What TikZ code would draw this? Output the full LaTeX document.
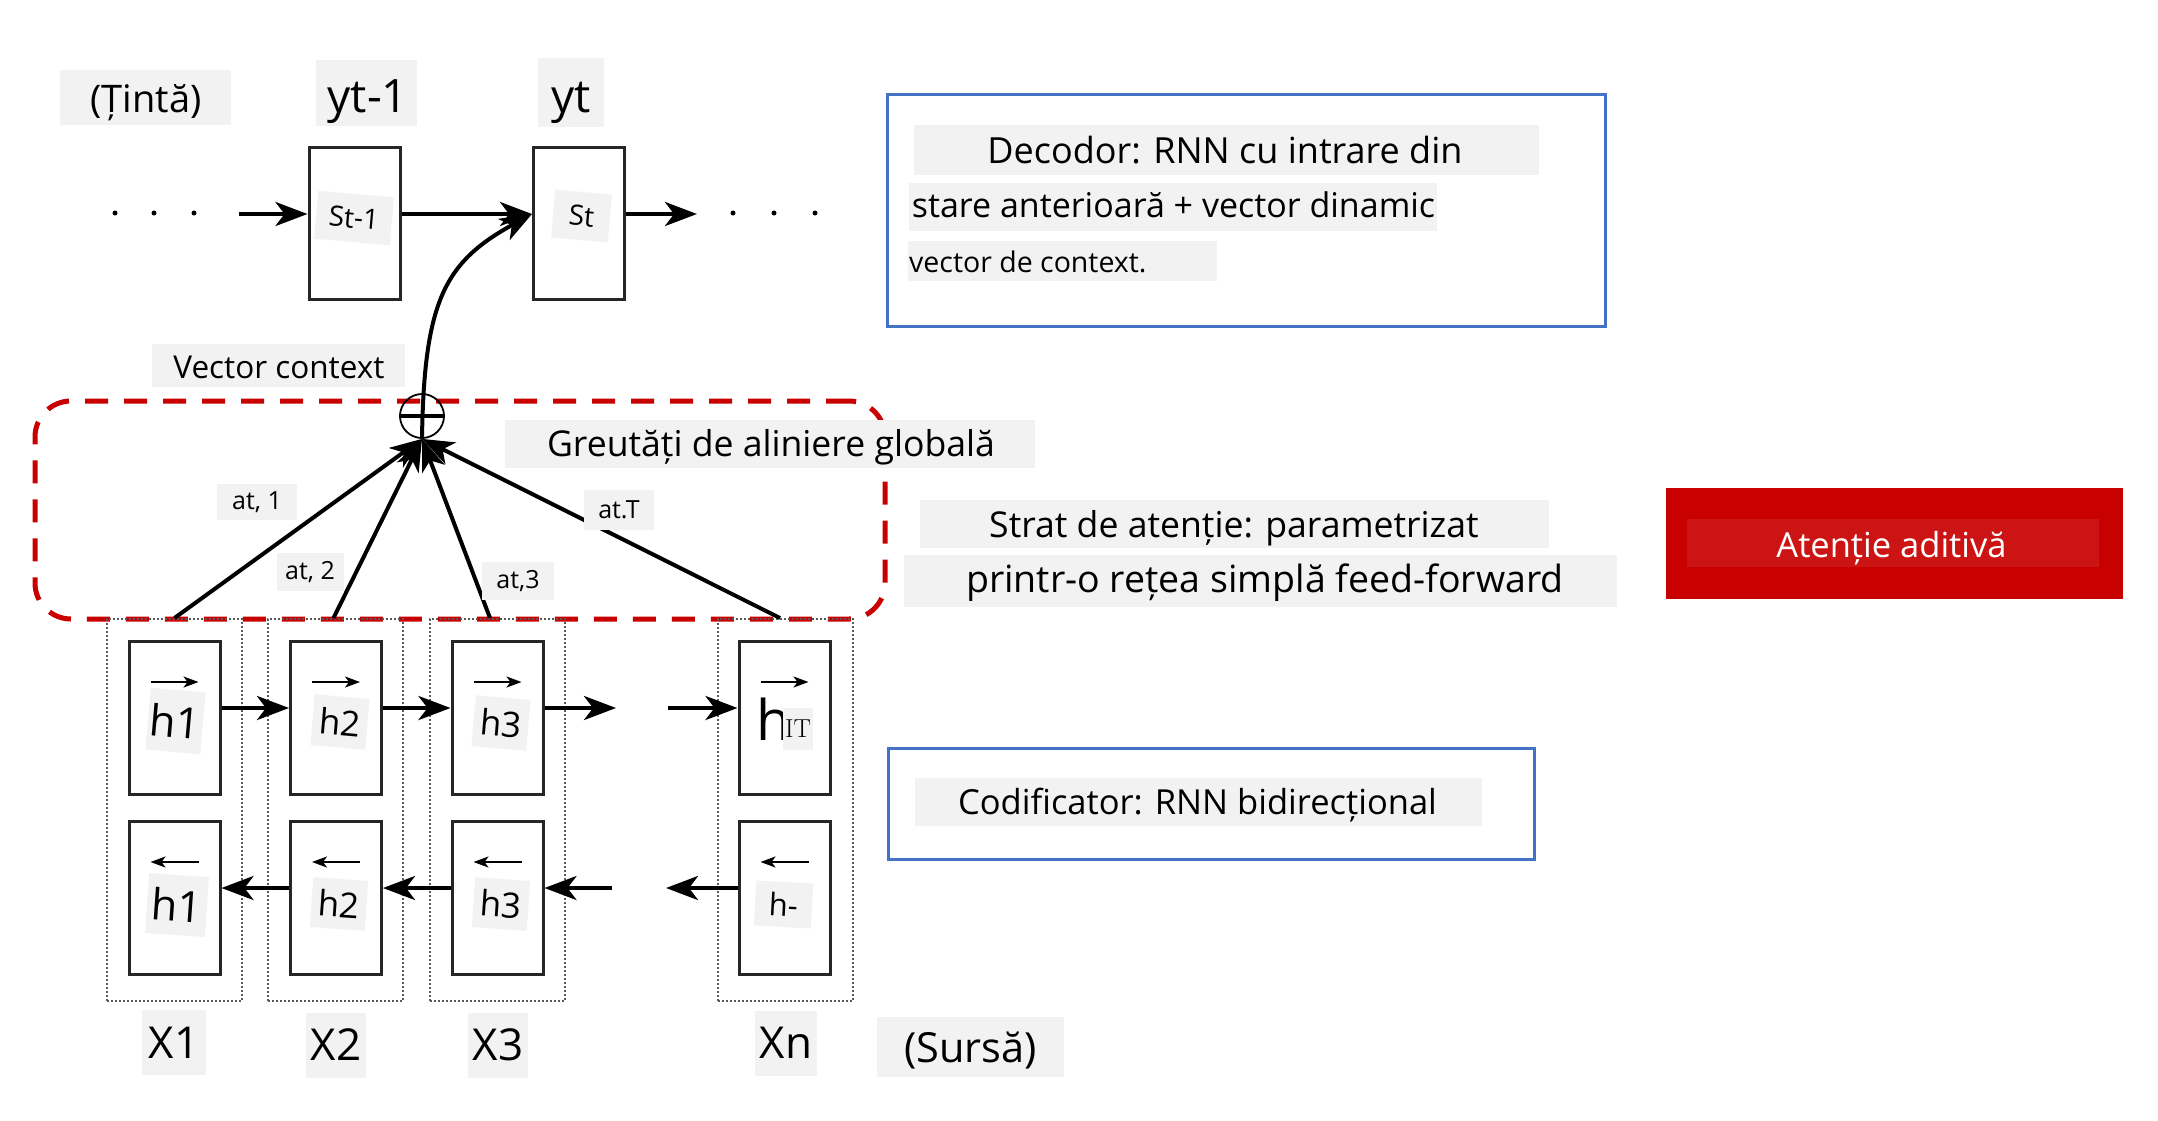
\documentclass[tikz,border=0pt]{standalone}
\usepackage{fontspec}
\newfontfamily\os{Open Sans}
\usetikzlibrary{arrows.meta}
\definecolor{bgc}{HTML}{F2F2F2}
\definecolor{blu}{HTML}{4472C4}
\definecolor{redd}{HTML}{C80000}
\definecolor{redi}{HTML}{CC1414}
\begin{document}
\begin{tikzpicture}[x=1pt,y=-1pt,
  fs/.style={font=\os\fontsize{#1}{#1}\selectfont},
  txt/.style={inner sep=0pt, anchor=base},
  bg/.style={fill=bgc},
  lbl/.style={fill=bgc, inner sep=0pt},
  cell/.style={draw=black!85, line width=3pt, minimum width=91pt, minimum height=153pt, inner sep=0pt},
  col/.style={draw=black!65, dash pattern=on 2pt off 2pt, line width=2pt, minimum width=135pt, minimum height=382pt, inner sep=0pt},
  arr/.style={line width=4pt, -{Stealth[length=32pt,width=24pt,inset=9pt]}},
  sarr/.style={line width=2pt, -{Stealth[length=15pt,width=11pt,inset=4pt]}},
  info/.style={draw=blu, line width=3pt, inner sep=0pt},
]
\useasboundingbox (0,0) rectangle (2158,1120);

% ---------- attention region (red dashed) ----------
\node[draw=redd, line width=5pt, dash pattern=on 23pt off 16pt, rounded corners=36pt,
      minimum width=850pt, minimum height=218pt, inner sep=0pt] (attn) at (460,510) {};

% ---------- decoder ----------
\node[cell, minimum height=152pt] (s1) at (354.5,223) {};
\node[cell, minimum height=152pt] (s2) at (579,223) {};
\coordinate (dl) at (239,214);
\coordinate (dr) at (697,214);
\foreach \x in {115,154,194,733,774,815} \fill (\x,213) circle (2.5pt);
\draw[arr] (dl) -- ([yshift=9pt]s1.west);
\draw[arr] ([yshift=9pt]s1.east) -- ([yshift=9pt]s2.west);
\draw[arr] ([yshift=9pt]s2.east) -- (dr);
\node[lbl, rotate=-5, minimum width=76pt, minimum height=48pt, fs=28] (s1lab) at (354,218) {St-1};
\node[lbl, rotate=-5, minimum width=57pt, minimum height=48pt, fs=28] (s2lab) at (581.5,216) {St};

% ---------- encoder columns ----------
\foreach \n/\x in {1/174.5,2/335.5,3/497,4/785}
  \node[col] (c\n) at (\x,810) {};
\foreach \n/\x in {1/174.5,2/336,3/497.5,4/784.5}{
  \node[cell] (t\n) at (\x,717.5) {};
  \node[cell] (b\n) at (\x,897.5) {};
  \draw[sarr] (\x-24,682) -- (\x+24,682);
  \draw[sarr] (\x+24,862) -- (\x-24,862);
}
\coordinate (fa) at (616,708);
\coordinate (fb) at (668,708);
\coordinate (ba) at (612,888);
\coordinate (bb) at (666,888);
\draw[arr] ([yshift=9.5pt]t1.east) -- ([yshift=9.5pt]t2.west);
\draw[arr] ([yshift=9.5pt]t2.east) -- ([yshift=9.5pt]t3.west);
\draw[arr] ([yshift=9.5pt]t3.east) -- (fa);
\draw[arr] (fb) -- ([yshift=9.5pt]t4.west);
\draw[arr] ([yshift=9.5pt]b2.west) -- ([yshift=9.5pt]b1.east);
\draw[arr] ([yshift=9.5pt]b3.west) -- ([yshift=9.5pt]b2.east);
\draw[arr] (ba) -- ([yshift=9.5pt]b3.east);
\draw[arr] ([yshift=9.5pt]b4.west) -- (bb);

% h labels
\node[lbl, rotate=-5, minimum width=55pt, minimum height=62pt, fs=43] (h1t) at (175.5,721) {h1};
\node[lbl, rotate=-5, minimum width=55pt, minimum height=51pt, fs=35] (h2t) at (340,722) {h2};
\node[lbl, rotate=-5, minimum width=55pt, minimum height=51pt, fs=35] (h3t) at (501,723) {h3};
\node[txt, fs=56] (hbig) at (774,740) {h};
\node[lbl, minimum width=30pt, minimum height=42pt, font=\fontsize{26}{26}\selectfont] (hit) at (798,729) {IT};
\node[lbl, rotate=-4, minimum width=60pt, minimum height=60pt, fs=43] (h1b) at (177,905) {h1};
\node[lbl, rotate=-4, minimum width=55pt, minimum height=50pt, fs=35] (h2b) at (339,904) {h2};
\node[lbl, rotate=-4, minimum width=55pt, minimum height=50pt, fs=35] (h3b) at (501,904) {h3};
\node[lbl, rotate=-3, minimum width=57pt, minimum height=45pt, fs=31] (hnb) at (783.5,904.5) {h-};

% X labels
\node[lbl, minimum width=64pt, minimum height=65pt, fs=44] (x1) at (174,1042.5) {X1};
\node[lbl, minimum width=60pt, minimum height=65pt, fs=44] (x2) at (336,1045) {X2};
\node[lbl, minimum width=60pt, minimum height=65pt, fs=44] (x3) at (498,1045) {X3};
\node[lbl, minimum width=62pt, minimum height=65pt, fs=44] (xn) at (786,1043) {Xn};

% ---------- attention lines + plus ----------
\node[circle, draw, line width=1.8pt, minimum size=44pt, inner sep=0pt] (plus) at (422,416) {};
\draw[line width=4pt] (plus.west) -- (plus.east);
\draw[arr] (c1.north) -- (plus.south);
\draw[arr] ([xshift=-2pt]c2.north) -- (plus.south);
\draw[arr] ([xshift=-7pt]c3.north) -- (plus.south);
\draw[arr] ([xshift=-5pt]c4.north) -- (plus.south);
\draw[arr] (plus.south) .. controls (424,300) and (445,262) .. ([yshift=9pt]s2.west);

\node[lbl, minimum width=80pt, minimum height=36pt, fs=25] (a1) at (257,502) {at, 1};
\node[lbl, minimum width=67pt, minimum height=38pt, fs=25] (a2) at (310,572) {at, 2};
\node[lbl, minimum width=72pt, minimum height=38pt, fs=25] (a3) at (518,581) {at,3};
\node[lbl, minimum width=70pt, minimum height=40pt, fs=25] (aT) at (619,510) {at.T};

% ---------- text labels ----------
\fill[bgc] (60,70) rectangle (231,125);
\node[txt, fs=38] (tinta) at (146,112) {(Țintă)};
\fill[bgc] (316,60) rectangle (417,126);
\node[txt, fs=46] (yt1) at (368,112) {yt-1};
\fill[bgc] (538,58) rectangle (604,127);
\node[txt, fs=46] (yt) at (571,112) {yt};

\node[info, minimum width=718pt, minimum height=232pt] (dec) at (1246,210) {};
\fill[bgc] (914,125) rectangle (1539,175);
\node[txt, fs=36] (dec1) at (1225,163) {Decodor: RNN cu intrare din};
\fill[bgc] (909,183) rectangle (1437,231);
\node[txt, fs=34] (dec2) at (1173.5,217) {stare anterioară + vector dinamic};
\fill[bgc] (908,241) rectangle (1217,281);
\node[txt, fs=28.5, anchor=base west] (dec3) at (909,272) {vector de context.};

\fill[bgc] (152,344) rectangle (405,387);
\node[txt, fs=31.5] (vc) at (279,378) {Vector context};

\fill[bgc] (505,420) rectangle (1035,468);
\node[txt, fs=35.6] (greut) at (771,456) {Greutăți de aliniere globală};
\fill[bgc] (920,500) rectangle (1549,548);
\node[txt, fs=35.6] (strat) at (1234,537) {Strat de atenție: parametrizat};
\fill[bgc] (904,555) rectangle (1617,607);
\node[txt, fs=37.5] (printr) at (1265,592) {printr-o rețea simplă feed-forward};

\fill[redd] (1666,488) rectangle (2123,599);
\fill[redi] (1687,519) rectangle (2099,567);
\node[txt, fs=34.5, text=white] (aditiva) at (1891.5,557) {Atenție aditivă};

\node[info, minimum width=646pt, minimum height=111pt] (enc) at (1211,803.5) {};
\fill[bgc] (915,778) rectangle (1482,826);
\node[txt, fs=34.5] (codif) at (1197.5,814) {Codificator: RNN bidirecțional};

\fill[bgc] (877,1017) rectangle (1064,1077);
\node[txt, fs=41.5] (sursa) at (970.5,1062) {(Sursă)};
\end{tikzpicture}
\end{document}
